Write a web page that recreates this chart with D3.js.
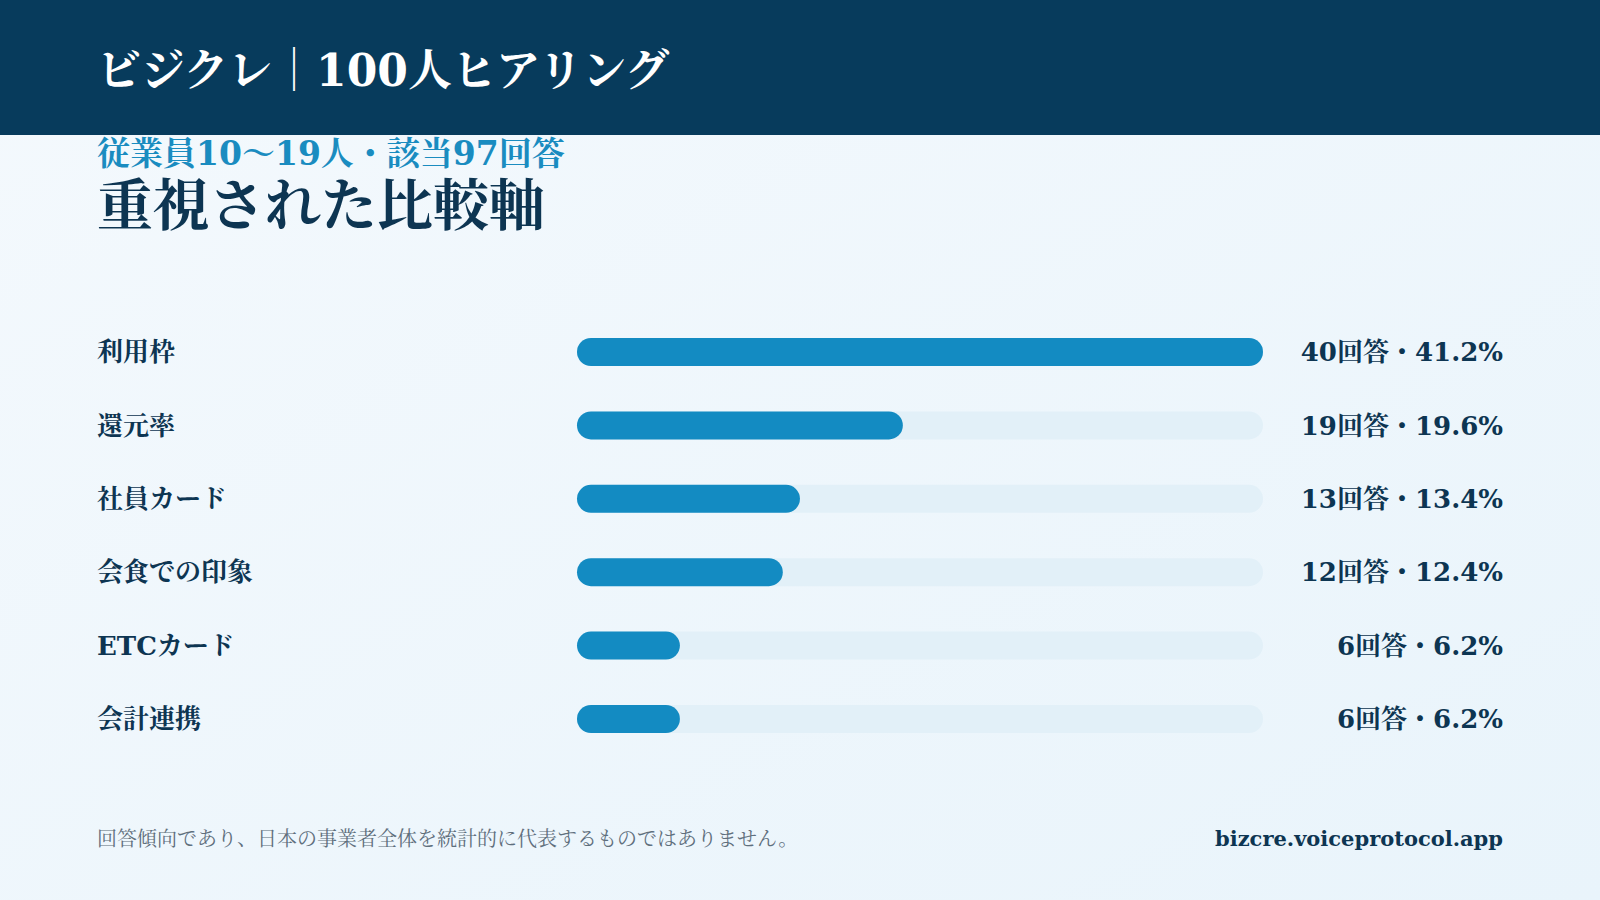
<!DOCTYPE html>
<html><head><meta charset="utf-8">
<script src="https://cdn.jsdelivr.net/npm/d3@7"></script>
<style>body{margin:0;overflow:hidden}svg{display:block}</style>
</head><body>
<script>
const categories=["利用枠","還元率","社員カード","会食での印象","ETCカード","会計連携"];
const counts=[40,19,13,12,6,6];
const percents=[41.2,19.6,13.4,12.4,6.2,6.2];
const W=1600,H=900;
const font="'DejaVu Serif','Noto Serif CJK JP','Noto Sans CJK JP',serif";
const svg=d3.select("body").append("svg").attr("width",W).attr("height",H).style("font-family",font);
const defs=svg.append("defs");
const g=defs.append("linearGradient").attr("id","bg").attr("x1",0).attr("y1",0).attr("x2",1).attr("y2",1);
g.append("stop").attr("offset","0").attr("stop-color","#f4f9fd");
g.append("stop").attr("offset","1").attr("stop-color","#e9f4fb");
svg.append("rect").attr("width",W).attr("height",H).attr("fill","url(#bg)");
svg.append("rect").attr("width",W).attr("height",135).attr("fill","#073b5c");
svg.append("text").attr("x",97).attr("y",86).attr("fill","#fff").attr("font-size",44).attr("font-weight","bold").text("ビジクレ｜100人ヒアリング");
svg.append("text").attr("x",97).attr("y",165).attr("fill","#1a8cc0").attr("font-size",33).attr("font-weight","bold").text("従業員10〜19人・該当97回答");
svg.append("text").attr("x",97).attr("y",225).attr("fill","#0d3552").attr("font-size",56).attr("font-weight","bold").text("重視された比較軸");
const x=d3.scaleLinear().domain([0,d3.max(counts)]).range([577,1263]);
const y=d3.scalePoint().domain(categories).range([352,719]);
const bh=28;
const rows=svg.append("g").selectAll("g").data(categories).join("g");
rows.append("text").attr("x",97).attr("y",d=>y(d)).attr("dy","0.35em").attr("fill","#0d3552").attr("font-size",26).attr("font-weight","bold").text(d=>d);
rows.append("rect").attr("x",x(0)).attr("y",d=>y(d)-bh/2).attr("width",x(40)-x(0)).attr("height",bh).attr("rx",bh/2).attr("fill","#e2f0f8");
rows.append("rect").attr("x",x(0)).attr("y",d=>y(d)-bh/2).attr("width",(d,i)=>x(counts[i])-x(0)).attr("height",bh).attr("rx",bh/2).attr("fill","#138bc2");
rows.append("text").attr("x",1503).attr("y",d=>y(d)).attr("dy","0.35em").attr("text-anchor","end").attr("fill","#0d3552").attr("font-size",26).attr("font-weight","bold").text((d,i)=>counts[i]+"回答・"+percents[i].toFixed(1)+"%");
svg.append("text").attr("x",97).attr("y",846).attr("fill","#5f6f7d").attr("font-size",20).text("回答傾向であり、日本の事業者全体を統計的に代表するものではありません。");
svg.append("text").attr("x",1503).attr("y",846).attr("text-anchor","end").attr("fill","#0d3552").attr("font-size",21).attr("font-weight","bold").text("bizcre.voiceprotocol.app");
</script></body></html>
